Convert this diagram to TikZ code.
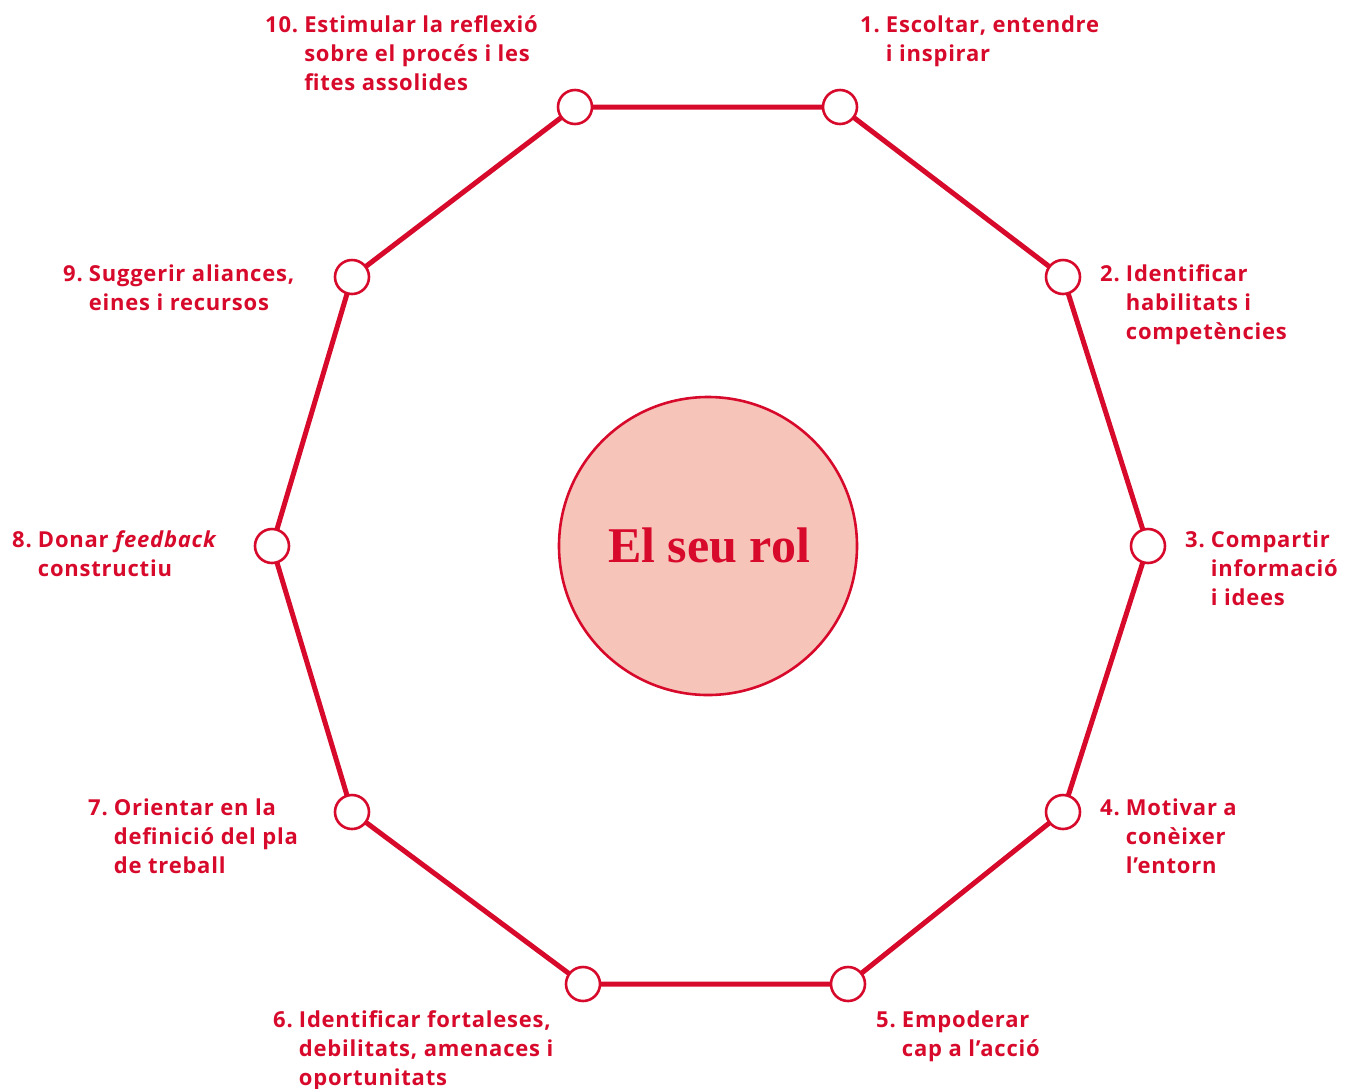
\documentclass[tikz,border=0pt]{standalone}
\usepackage{fontspec}
\setmainfont{Open Sans}[LetterSpace=3.5]
\newfontfamily\titlefont{Liberation Serif}
\definecolor{rolred}{HTML}{D70A2C}
\definecolor{rolfill}{HTML}{F7C4BA}
\newcommand{\lbl}[2]{{\fontsize{22}{29.3}\selectfont\bfseries\begin{tabular}[t]{@{}l@{\hspace{0.28em}}l@{}}#1 & #2\end{tabular}}}
\begin{document}
\begin{tikzpicture}[x=1pt,y=-1pt,
  edge/.style={draw=rolred,line width=5pt},
  vtx/.style={circle,draw=rolred,line width=2.6pt,fill=white,minimum size=34pt,inner sep=0pt},
  lab/.style={anchor=base west,inner sep=0pt,text=rolred}]
\useasboundingbox (0,0) rectangle (1349,1088);
\node[circle,draw=rolred,line width=2.6pt,fill=rolfill,minimum size=298pt,inner sep=0pt] (c) at (708,546) {};
\node[text=rolred,anchor=base,inner sep=0pt] (t) at (709,562) {\titlefont\bfseries\fontsize{50}{60}\selectfont El seu rol};
\coordinate (p1) at (840,107);
\coordinate (p2) at (1063,277);
\coordinate (p3) at (1148,546);
\coordinate (p4) at (1063,812);
\coordinate (p5) at (848,984);
\coordinate (p6) at (583,984);
\coordinate (p7) at (352,812);
\coordinate (p8) at (272,546);
\coordinate (p9) at (352,277);
\coordinate (p10) at (575,107);
\draw[edge] (p1) -- (p2) -- (p3) -- (p4) -- (p5) -- (p6) -- (p7) -- (p8) -- (p9) -- (p10) -- cycle;
\foreach \i in {1,...,10} {\node[vtx] (v\i) at (p\i) {};}
\node[lab] (l1) at (860,32) {\lbl{1.}{Escoltar, entendre\\ & i inspirar}};
\node[lab] (l2) at (1100,281) {\lbl{2.}{Identificar\\ & habilitats i\\ & competències}};
\node[lab] (l3) at (1185,547) {\lbl{3.}{Compartir\\ & informació\\ & i idees}};
\node[lab] (l4) at (1100,815) {\lbl{4.}{Motivar a\\ & conèixer\\ & l’entorn}};
\node[lab] (l5) at (876,1027) {\lbl{5.}{Empoderar\\ & cap a l’acció}};
\node[lab] (l6) at (273,1027) {\lbl{6.}{Identificar fortaleses,\\ & debilitats, amenaces i\\ & oportunitats}};
\node[lab] (l7) at (88,815) {\lbl{7.}{Orientar en la\\ & definició del pla\\ & de treball}};
\node[lab] (l8) at (12,547) {\lbl{8.}{Donar \textit{feedback}\\ & constructiu}};
\node[lab] (l9) at (63,281) {\lbl{9.}{Suggerir aliances,\\ & eines i recursos}};
\node[lab] (l10) at (265,32) {\lbl{10.}{Estimular la reflexió\\ & sobre el procés i les\\ & fites assolides}};
\end{tikzpicture}
\end{document}
